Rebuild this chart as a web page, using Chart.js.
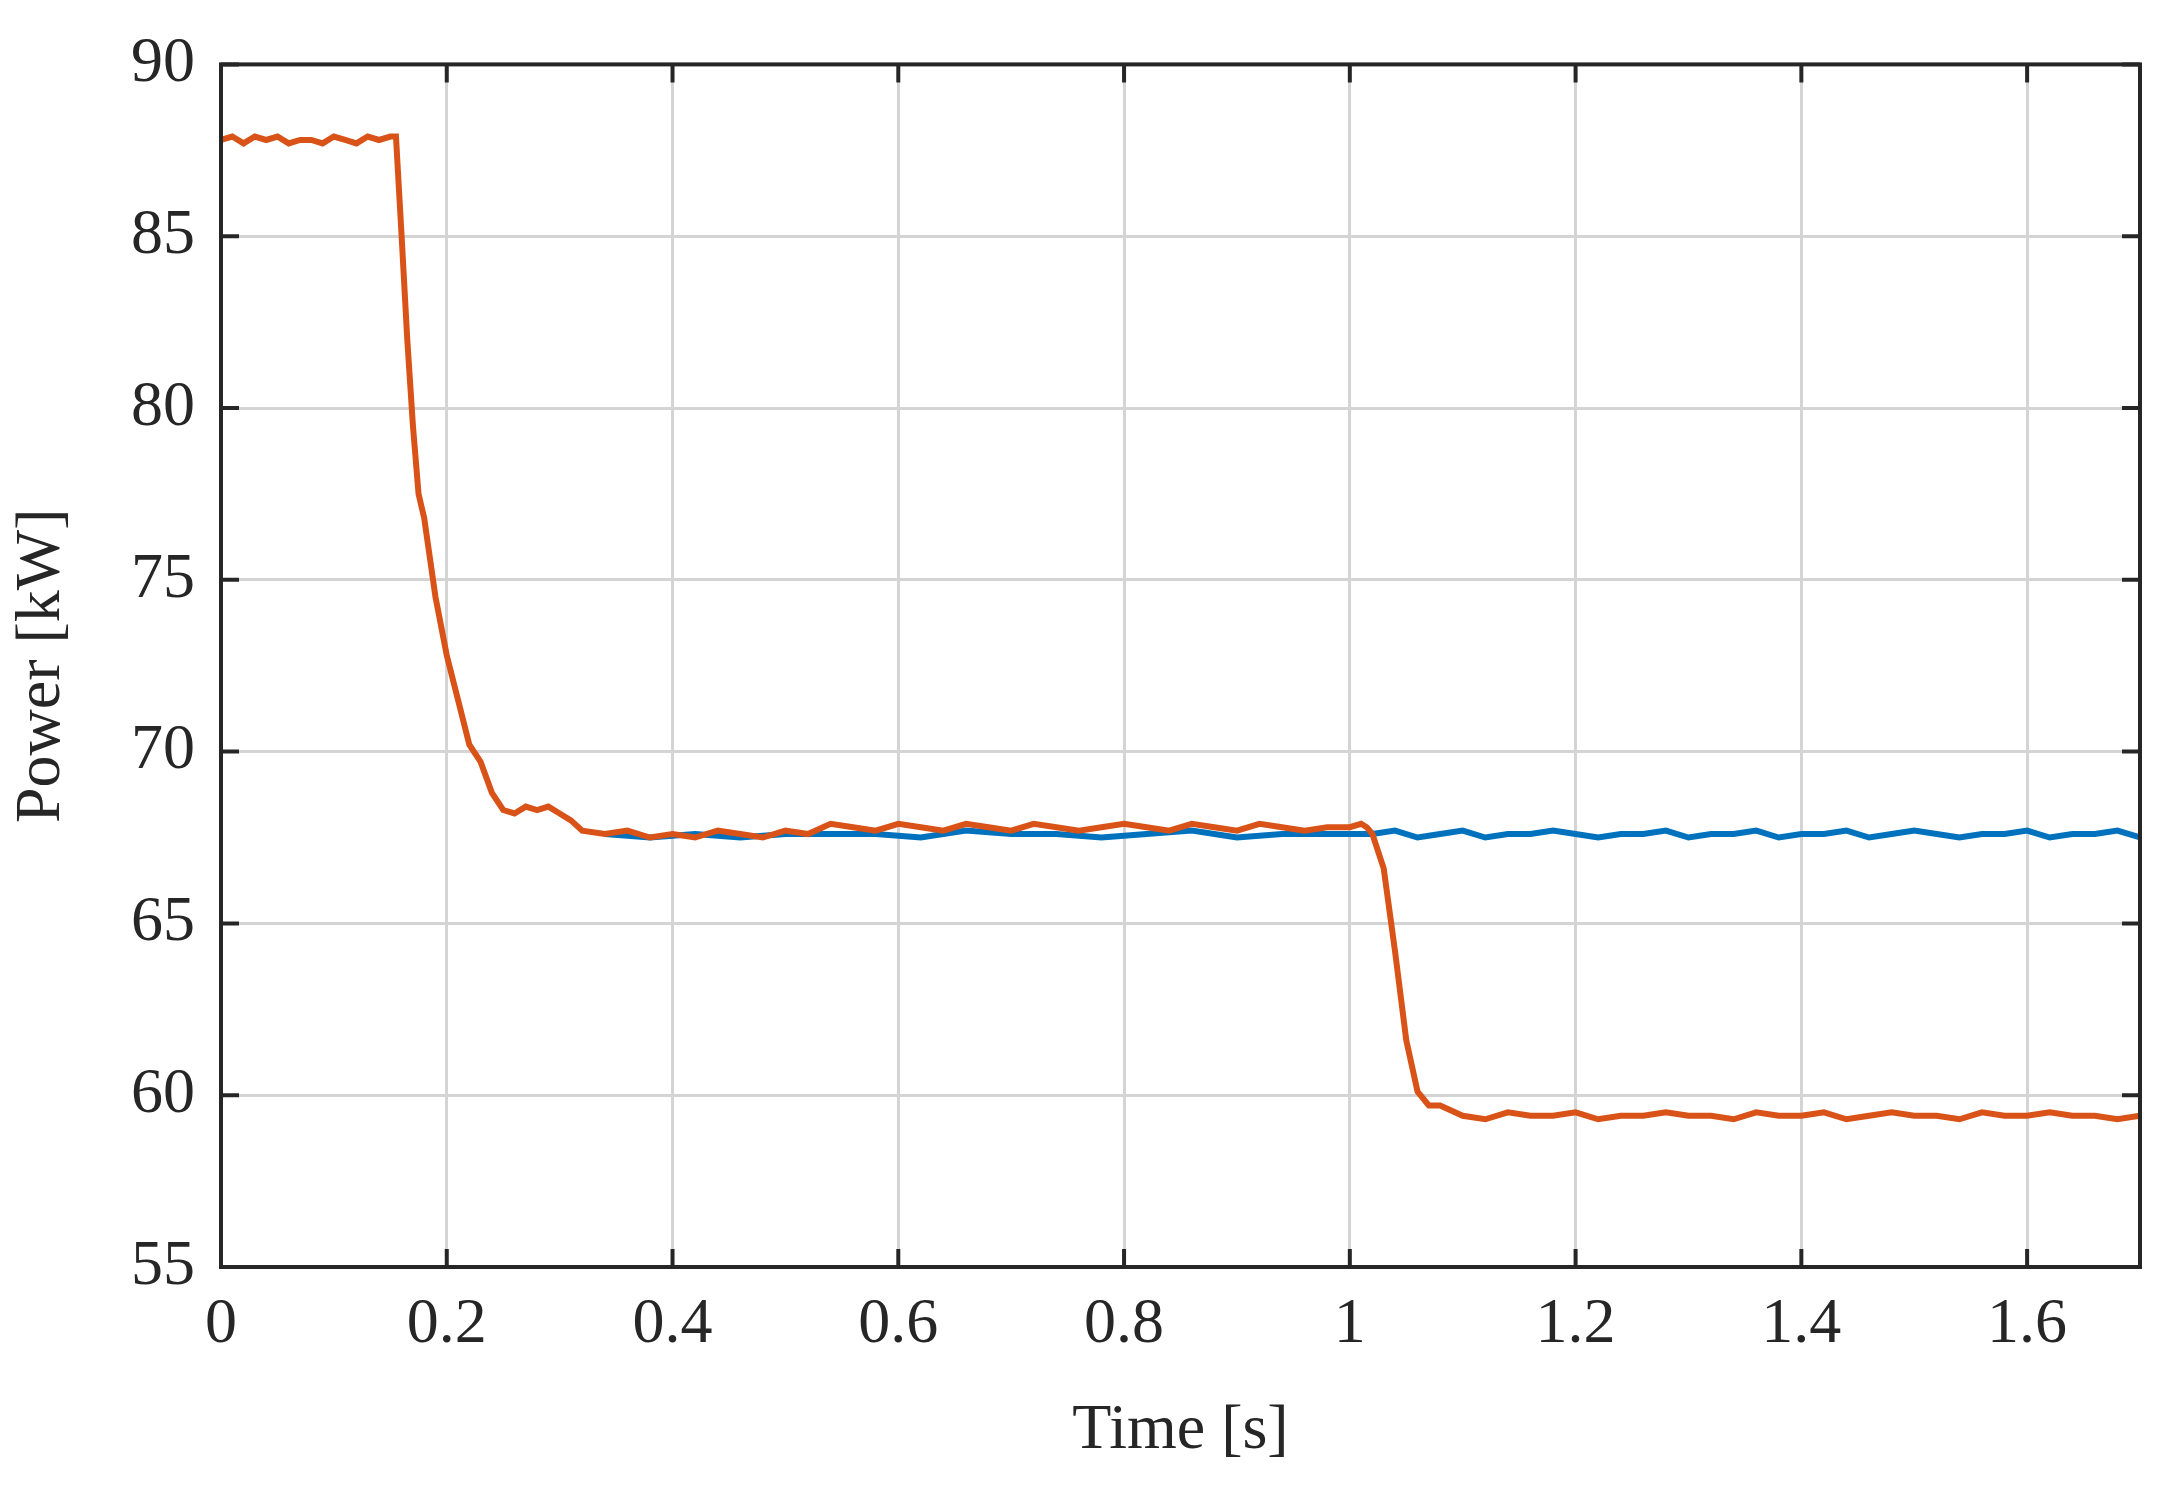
<!DOCTYPE html>
<html>
<head>
<meta charset="utf-8">
<script src="https://cdn.jsdelivr.net/npm/chart.js@4/dist/chart.umd.min.js"></script>
<style>
  body { margin: 0; background: #fff; }
</style>
</head>
<body>
<canvas id="chart" width="2170" height="1498"></canvas>
<script>
const xTicks = [0, 0.2, 0.4, 0.6, 0.8, 1, 1.2, 1.4, 1.6];
const yTicks = [55, 60, 65, 70, 75, 80, 85, 90];

// orange trace (with the step changes)
const tOrange = [0, 0.01, 0.02, 0.03, 0.04, 0.05, 0.06, 0.07, 0.08, 0.09, 0.10, 0.11, 0.12, 0.13, 0.14, 0.15, 0.155,
  0.16, 0.165, 0.17, 0.175, 0.18, 0.19, 0.20, 0.21, 0.22, 0.23, 0.24, 0.25, 0.26, 0.27, 0.28, 0.29, 0.30, 0.31, 0.32,
  0.34, 0.36, 0.38, 0.40, 0.42, 0.44, 0.46, 0.48, 0.50, 0.52, 0.54, 0.56, 0.58, 0.60, 0.62, 0.64, 0.66, 0.68, 0.70,
  0.72, 0.74, 0.76, 0.78, 0.80, 0.82, 0.84, 0.86, 0.88, 0.90, 0.92, 0.94, 0.96, 0.98, 1.00, 1.01, 1.015, 1.02, 1.03,
  1.04, 1.05, 1.06, 1.07, 1.08, 1.10, 1.12, 1.14, 1.16, 1.18, 1.20, 1.22, 1.24, 1.26, 1.28, 1.30, 1.32, 1.34, 1.36,
  1.38, 1.40, 1.42, 1.44, 1.46, 1.48, 1.50, 1.52, 1.54, 1.56, 1.58, 1.60, 1.62, 1.64, 1.66, 1.68, 1.70];
const pOrange = [87.8, 87.9, 87.7, 87.9, 87.8, 87.9, 87.7, 87.8, 87.8, 87.7, 87.9, 87.8, 87.7, 87.9, 87.8, 87.9, 87.9,
  85.0, 82.0, 79.5, 77.5, 76.8, 74.5, 72.8, 71.5, 70.2, 69.7, 68.8, 68.3, 68.2, 68.4, 68.3, 68.4, 68.2, 68.0, 67.7,
  67.6, 67.7, 67.5, 67.6, 67.5, 67.7, 67.6, 67.5, 67.7, 67.6, 67.9, 67.8, 67.7, 67.9, 67.8, 67.7, 67.9, 67.8, 67.7,
  67.9, 67.8, 67.7, 67.8, 67.9, 67.8, 67.7, 67.9, 67.8, 67.7, 67.9, 67.8, 67.7, 67.8, 67.8, 67.9, 67.8, 67.6, 66.6,
  64.2, 61.6, 60.1, 59.7, 59.7, 59.4, 59.3, 59.5, 59.4, 59.4, 59.5, 59.3, 59.4, 59.4, 59.5, 59.4, 59.4, 59.3, 59.5,
  59.4, 59.4, 59.5, 59.3, 59.4, 59.5, 59.4, 59.4, 59.3, 59.5, 59.4, 59.4, 59.5, 59.4, 59.4, 59.3, 59.4];

// blue trace (stays at the upper level)
const tBlue = [0.34, 0.38, 0.42, 0.46, 0.50, 0.54, 0.58, 0.62, 0.66, 0.70, 0.74, 0.78, 0.82, 0.86, 0.90, 0.94, 0.98,
  1.02, 1.04, 1.06, 1.08, 1.10, 1.12, 1.14, 1.16, 1.18, 1.20, 1.22, 1.24, 1.26, 1.28, 1.30, 1.32, 1.34, 1.36, 1.38,
  1.40, 1.42, 1.44, 1.46, 1.48, 1.50, 1.52, 1.54, 1.56, 1.58, 1.60, 1.62, 1.64, 1.66, 1.68, 1.70];
const pBlue = [67.6, 67.5, 67.6, 67.5, 67.6, 67.6, 67.6, 67.5, 67.7, 67.6, 67.6, 67.5, 67.6, 67.7, 67.5, 67.6, 67.6,
  67.6, 67.7, 67.5, 67.6, 67.7, 67.5, 67.6, 67.6, 67.7, 67.6, 67.5, 67.6, 67.6, 67.7, 67.5, 67.6, 67.6, 67.7, 67.5,
  67.6, 67.6, 67.7, 67.5, 67.6, 67.7, 67.6, 67.5, 67.6, 67.6, 67.7, 67.5, 67.6, 67.6, 67.7, 67.5];

const FONT = "'Liberation Serif', 'Times New Roman', serif";

const innerTicks = {
  id: 'innerTicks',
  afterDraw(c) {
    const { ctx, chartArea: a, scales: { x, y } } = c;
    ctx.save();
    ctx.strokeStyle = '#262626';
    ctx.lineWidth = 4;
    ctx.beginPath();
    xTicks.forEach(v => {
      const px = x.getPixelForValue(v);
      ctx.moveTo(px, a.bottom); ctx.lineTo(px, a.bottom - 18);
      ctx.moveTo(px, a.top); ctx.lineTo(px, a.top + 18);
    });
    yTicks.forEach(v => {
      const py = y.getPixelForValue(v);
      ctx.moveTo(a.left, py); ctx.lineTo(a.left + 18, py);
      ctx.moveTo(a.right, py); ctx.lineTo(a.right - 18, py);
    });
    ctx.stroke();
    ctx.strokeRect(a.left, a.top, a.right - a.left, a.bottom - a.top);
    ctx.restore();
  }
};

new Chart(document.getElementById('chart'), {
  type: 'line',
  data: {
    datasets: [
      {
        label: 'P2',
        data: tOrange.map((t, i) => ({ x: t, y: pOrange[i] })),
        borderColor: '#D95319',
        borderWidth: 6,
        pointRadius: 0,
        order: 0
      },
      {
        label: 'P1',
        data: tBlue.map((t, i) => ({ x: t, y: pBlue[i] })),
        borderColor: '#0072BD',
        borderWidth: 6,
        pointRadius: 0,
        order: 1
      }
    ]
  },
  options: {
    responsive: false,
    animation: false,
    layout: { padding: { top: 41, right: 30, left: 0, bottom: 0 } },
    plugins: { legend: { display: false }, tooltip: { enabled: false } },
    scales: {
      x: {
        type: 'linear', min: 0, max: 1.7,
        afterBuildTicks: s => { s.ticks = xTicks.map(v => ({ value: v })); },
        afterFit: s => { s.height = 231; },
        grid: { color: '#d4d4d4', lineWidth: 3, drawTicks: false },
        border: { display: false },
        ticks: { color: '#262626', font: { family: FONT, size: 64 }, padding: 20, maxRotation: 0, callback: v => String(v) },
        title: { display: true, text: 'Time [s]', color: '#262626', font: { family: FONT, size: 64 }, padding: { top: 0, bottom: 28 } }
      },
      y: {
        min: 55, max: 90,
        afterBuildTicks: s => { s.ticks = yTicks.map(v => ({ value: v })); },
        afterFit: s => { s.width = 221; },
        grid: { color: '#d4d4d4', lineWidth: 3, drawTicks: false },
        border: { display: false },
        ticks: { color: '#262626', font: { family: FONT, size: 64 }, padding: 26 },
        title: { display: true, text: 'Power [kW]', color: '#262626', font: { family: FONT, size: 64 }, padding: { bottom: 0 } }
      }
    }
  },
  plugins: [innerTicks]
});
</script>
</body>
</html>
